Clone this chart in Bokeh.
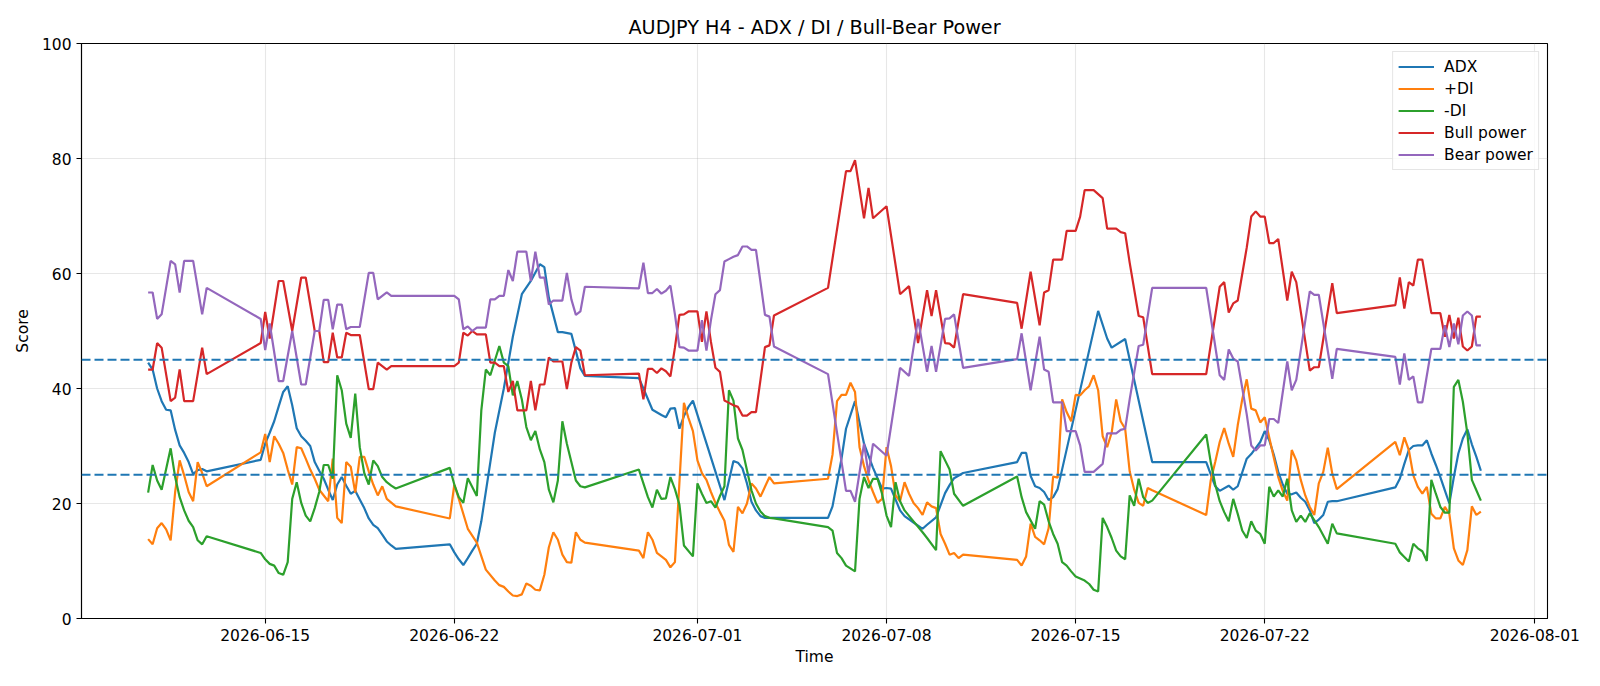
import pandas as pd
from bokeh.plotting import figure
from bokeh.models import Range1d, FixedTicker, DatetimeTickFormatter, Span
from bokeh.embed import file_html
from bokeh.resources import INLINE

title_text = "AUDJPY H4 - ADX / DI / Bull-Bear Power"
# bar times are stored as hour offsets from this reference timestamp
T0 = pd.Timestamp("2026-06-14 23:00")


def full(a, b):
    """every H4 bar from hour a to hour b (inclusive)"""
    return list(range(a, b + 1, 4))


date_ticks = ["2026-06-15", "2026-06-22", "2026-07-01", "2026-07-08",
              "2026-07-15", "2026-07-22", "2026-08-01"]
y_ticks = [0, 20, 40, 60, 80, 100]
thresholds = [45, 25]

# ---------------- ADX ----------------
adx_hours = (full(-103, -51) + full(-3, 117)
             + [165, 169, 173, 177, 181, 185, 189, 193, 205, 213, 221, 229, 237, 245, 249, 253, 261, 265, 273, 277, 281, 285]
             + [333, 337, 345, 353, 357, 361, 365, 369, 373, 377, 381, 409, 417, 421, 425, 429, 433, 437, 441, 445, 453]
             + [501, 505, 513, 517, 525, 533, 541, 549, 553, 557, 565, 569, 577, 585, 589, 597, 605, 609, 613, 621]
             + [669, 673, 677, 681, 685, 689, 693, 697, 701, 705, 741, 749, 753, 765, 789]
             + [837, 845, 849, 857, 861, 865, 873, 877, 885, 889, 893, 897, 901, 905, 909, 913, 917, 921, 925, 929, 933, 937, 941, 945, 949, 953]
             + full(1005, 1081))
adx_values = [44.5, 43.3, 40.0, 37.8, 36.3, 36.2, 32.8, 30.1, 28.8, 27.2, 25.1, 25.8, 26.0, 25.6,
              27.6, 30.4, 32.3, 34.3, 36.9, 39.4, 40.4, 37.1, 33.1, 31.7, 30.9, 30.0, 27.2, 25.7, 24.3, 22.4,
              20.6, 23.3, 24.6, 23.1, 21.7, 22.2, 20.7, 19.2, 17.4, 16.3, 15.7, 14.6, 13.4, 12.7, 12.1,
              12.9, 11.5, 10.3, 9.3, 10.5, 11.8, 13.0, 16.9, 32.3, 40.0, 49.0, 56.4, 58.7, 61.6, 61.1, 55.8,
              49.8, 49.8, 49.5, 46.5, 43.5, 42.2,
              41.8, 40.0, 36.3, 35.4, 35.0, 36.5, 36.6, 33.0, 35.2, 36.8, 37.9, 20.6, 27.4, 27.1, 26.1, 23.5,
              20.3, 18.8, 17.8, 17.5, 17.5,
              17.5, 19.5, 27.8, 33.0, 37.8, 30.4, 26.2, 22.6, 22.7, 22.6, 18.8, 17.8, 16.7, 15.6, 16.3, 17.6,
              21.8, 23.2, 24.4, 25.3,
              27.2, 28.8, 28.8, 24.8, 23.0, 22.7, 22.0, 20.6, 21.1, 22.5, 53.5, 48.7, 47.1, 48.6, 27.2,
              27.2, 23.0, 22.2, 23.1, 22.4, 23.0, 27.8, 28.6, 30.7, 32.6, 31.0, 28.5, 25.5, 23.3, 21.7, 21.6,
              21.9, 21.0, 20.3, 18.8, 16.6, 17.2, 18.0, 20.3, 20.4, 20.4,
              22.8, 24.3, 26.9, 29.3, 30.0, 30.1, 30.1, 31.0, 28.7, 26.7, 24.6, 22.3, 20.0, 24.6, 28.7, 31.3,
              32.9, 30.3, 28.1, 25.7]

# ---------------- +DI ----------------
plus_di_hours = (full(-103, -51)
                 + [-3, 1, 5, 9, 13, 17, 21, 25, 29, 33, 37, 41, 45, 49, 57, 61, 65, 69, 73, 77, 81, 85, 89, 93, 97, 101, 105, 109, 117]
                 + [165, 169, 173, 181, 189, 197, 205, 209, 213, 217, 221, 225, 229, 233, 237, 241, 245, 249, 253, 257, 261, 265, 269, 273, 277, 281, 285]
                 + [333, 337, 341, 345, 349, 353, 357, 361, 365] + full(373, 453)
                 + full(501, 621) + full(669, 789) + full(837, 953) + full(1005, 1081))
plus_di_values = [13.8, 12.9, 15.7, 16.6, 15.5, 13.6, 22.0, 27.5, 24.9, 22.0, 20.4, 27.2, 25.3, 23.0,
                  28.9, 32.1, 27.2, 31.7, 30.4, 28.8, 25.9, 23.3, 29.8, 29.6, 27.8, 25.9, 24.3, 22.4, 20.4,
                  27.8, 17.5, 16.6, 27.2, 26.4, 21.9, 28.1, 28.1, 25.6, 23.3, 21.4, 23.0, 20.8, 19.5,
                  17.4, 23.3, 20.8, 15.6, 13.2, 8.5, 6.6, 5.8, 5.5, 4.7, 4.0, 3.9, 4.2, 6.1, 5.7, 5.0, 4.9,
                  7.6, 12.4, 15.0, 13.7, 11.1, 9.8, 9.7, 15.0, 13.7, 13.2,
                  11.8, 10.5, 15.0, 13.7, 11.4, 10.8, 10.2, 8.9, 9.8, 37.5, 34.9, 32.6, 27.5, 25.3, 24.1, 22.0,
                  20.1, 18.5, 17.0, 12.8, 11.6, 19.4, 18.3, 20.0, 23.5, 22.6, 21.2, 22.9, 24.6, 23.5,
                  24.3, 28.5, 37.8, 38.9, 38.9, 41.0, 39.4, 29.8, 26.5, 24.0, 22.0, 20.1, 20.8, 29.8, 26.5,
                  21.4, 20.4, 23.7, 21.7, 20.1, 19.2, 18.0, 20.2, 19.5, 19.2, 14.7, 13.0, 11.1, 11.4, 10.5, 11.1,
                  10.2, 9.2, 10.8, 16.5, 14.2, 13.6, 12.9, 15.7, 24.7, 24.5, 38.1, 35.9, 34.3, 38.9, 38.8,
                  39.7, 40.4, 42.3, 39.7, 31.7, 29.8, 32.3, 38.1, 34.3, 33.0, 25.6, 22.4, 20.1, 19.6, 22.7, 22.3,
                  18.0, 24.0, 27.2, 30.7, 33.1, 30.4, 28.1, 33.6, 38.1, 41.6, 36.5, 36.2, 34.1, 35.0, 31.5,
                  28.0, 24.6, 22.2, 20.5, 29.3, 27.5, 24.1, 21.4, 19.4, 18.0, 23.5, 25.5, 29.7, 25.2, 22.5,
                  30.7, 28.4, 31.5, 29.3, 24.9, 22.9, 21.7, 22.9, 18.2, 17.4, 17.4, 19.4, 18.2, 12.2, 10.1,
                  9.3, 11.9, 19.5, 18.0, 18.6]

# ---------------- -DI ----------------
minus_di_hours = ([-103, -99, -95, -91, -83, -79, -75, -71, -67, -63, -59, -55, -51]
                  + full(-3, 117)
                  + [165, 169, 173, 177, 181, 189, 193, 197, 201] + full(209, 285)
                  + [333, 341, 345, 349, 353, 357, 361, 365, 369, 373] + full(381, 453)
                  + [501, 505, 509, 513, 517, 525] + full(529, 569) + [577, 585, 589, 597, 601, 605, 609, 613, 621]
                  + [669, 673, 677] + full(685, 721) + full(729, 789)
                  + full(837, 937) + [945, 949, 953]
                  + full(1005, 1081))
minus_di_values = [21.9, 26.7, 24.0, 22.4, 29.6, 24.6, 21.1, 18.8, 17.0, 15.9, 13.6, 12.9, 14.3,
                   11.4, 10.3, 9.5, 9.2, 7.9, 7.6, 9.8, 20.8, 23.7, 20.1, 17.9, 16.9, 19.2, 22.0, 26.7, 26.7,
                   24.3, 42.3, 39.7, 33.9, 31.4, 39.1, 29.8, 25.3, 23.3, 27.5, 26.5, 24.6, 23.7, 23.1, 22.6,
                   26.2, 23.3, 21.1, 20.1, 24.4, 21.3, 36.2, 43.3, 42.3, 47.4, 44.5, 43.9, 38.8, 41.3, 38.1,
                   33.3, 31.0, 32.6, 29.4, 27.2, 22.4, 20.2, 24.0, 34.3, 30.4, 27.2, 24.0, 23.0, 22.8,
                   25.9, 21.1, 19.3, 22.4, 20.8, 20.9, 24.6, 22.5, 19.8, 12.7, 10.8, 23.5, 21.7, 20.1, 20.4,
                   19.3, 21.3, 23.0, 39.7, 37.9, 31.3, 29.3, 25.8, 22.3, 20.0, 18.6, 17.8, 17.5, 17.4,
                   15.9, 15.3, 11.4, 10.5, 9.2, 8.2, 20.8, 24.6, 22.7, 24.3, 24.3, 21.7, 17.9, 15.9, 23.7,
                   20.4, 18.8, 16.9, 15.0, 14.0, 11.9, 29.1, 27.5, 25.9, 21.7, 19.6,
                   24.7, 21.1, 18.5, 15.6, 20.4, 19.8, 16.9, 14.7, 13.0, 9.8, 9.2, 8.2, 7.3, 6.6, 6.0, 5.0,
                   4.7, 17.5, 15.9, 14.0, 11.8, 10.8, 10.3, 21.4, 19.6, 24.3, 21.1, 20.1, 20.5,
                   32.0, 27.2, 23.3, 20.4, 18.5, 16.9, 20.8, 18.2, 15.3, 14.0, 16.9, 15.3, 14.7, 13.0, 22.9,
                   21.2, 22.3, 21.2, 24.3, 18.8, 16.8, 17.9, 16.8, 18.3, 17.1, 15.9, 13.0, 16.5, 14.8,
                   13.0, 11.5, 10.7, 9.9, 13.0, 12.2, 11.7, 10.0, 24.1, 21.7, 19.4, 18.4, 18.4, 40.3, 41.5,
                   37.7, 32.2, 24.1, 22.3, 20.5]

# ---------------- Bull / Bear power ----------------
power_hours = ([-103, -99, -95, -91, -83, -79, -75, -71, -63, -55, -51]
               + [-3, 1, 5, 13, 17, 25, 33, 37, 45, 49] + full(53, 77) + [85] + full(93, 117)
               + full(165, 285) + full(333, 453)
               + [501, 517, 521, 525, 533, 537, 541, 553, 565, 573, 581, 589, 593, 597, 605, 609, 613, 621]
               + [669, 673, 681] + full(689, 737) + full(745, 769) + [777, 781, 789]
               + [837, 849, 853, 857, 861, 865, 873, 877, 881, 885, 889, 893, 897, 901, 909, 913, 917,
                  929, 933, 937, 949, 953]
               + [1005, 1009, 1013, 1017, 1021, 1025, 1029] + full(1037, 1081))
bull_values = [43.3, 43.3, 47.9, 47.1, 37.8, 38.4, 43.3, 37.8, 37.8, 47.1, 42.5,
               47.9, 53.3, 48.7, 58.7, 58.7, 50.0, 59.3, 59.3, 50.0, 50.0, 44.6, 44.6, 49.7, 45.4, 45.4,
               49.7, 49.3, 49.3, 39.9, 39.9, 44.5, 43.9, 43.3, 43.9, 43.9,
               43.9, 43.9, 44.5, 49.7, 49.2, 50.0, 49.4, 49.4, 49.4, 44.5, 44.5, 43.9, 43.9, 39.4, 41.3,
               36.2, 36.2, 36.2, 41.3, 36.2, 40.7, 40.7, 45.4, 44.7, 44.7, 44.7, 39.9, 44.5, 47.2, 46.6, 42.3,
               42.6, 38.1, 43.4, 43.4, 42.7, 43.5, 43.0, 42.1, 47.1, 52.8, 52.9, 53.4, 53.4, 53.4, 48.1,
               53.4, 48.1, 43.6, 42.9, 37.9, 37.5, 37.1, 36.8, 35.3, 35.3, 35.9, 35.9, 41.5, 47.2, 47.5, 52.7,
               57.5, 77.8, 77.8, 79.7, 69.6, 74.9, 69.6, 71.7, 56.4, 57.8, 47.9, 57.1, 52.6, 57.1, 47.9,
               47.8, 47.1, 56.4,
               54.9, 50.4, 60.3, 51.0, 56.7, 57.1, 62.4, 62.4, 62.4, 67.4, 67.4, 67.4, 69.9, 74.5, 74.5,
               74.5, 73.1, 67.8, 67.8, 67.8, 67.2, 67.0, 61.9, 52.6, 52.4, 42.5,
               42.5, 57.7, 58.5, 53.2, 54.8, 55.3, 64.5, 69.9, 70.8, 69.9, 69.9, 65.3, 65.3, 66.0, 55.3,
               60.3, 58.5, 43.1, 43.7, 43.7, 58.3, 53.1,
               54.5, 59.3, 53.9, 58.5, 57.9, 62.4, 62.4, 53.1, 53.1, 53.1, 49.0, 52.8, 48.7, 52.3, 47.3,
               46.6, 47.3, 52.5, 52.5]
bear_values = [56.7, 56.7, 52.1, 52.9, 62.2, 61.6, 56.7, 62.2, 62.2, 52.9, 57.5,
               52.1, 46.7, 51.3, 41.3, 41.3, 50.0, 40.7, 40.7, 50.0, 50.0, 55.4, 55.4, 50.3, 54.6, 54.6,
               50.3, 50.7, 50.7, 60.1, 60.1, 55.5, 56.1, 56.7, 56.1, 56.1,
               56.1, 56.1, 55.5, 50.3, 50.8, 50.0, 50.6, 50.6, 50.6, 55.5, 55.5, 56.1, 56.1, 60.6, 58.7,
               63.8, 63.8, 63.8, 58.7, 63.8, 59.3, 59.3, 54.6, 55.3, 55.3, 55.3, 60.1, 55.5, 52.8, 53.4, 57.7,
               57.4, 61.9, 56.6, 56.6, 57.3, 56.5, 57.0, 57.9, 52.9, 47.2, 47.1, 46.6, 46.6, 46.6, 51.9,
               46.6, 51.9, 56.4, 57.1, 62.1, 62.5, 62.9, 63.2, 64.7, 64.7, 64.1, 64.1, 58.5, 52.8, 52.5, 47.3,
               42.5, 22.2, 22.2, 20.3, 30.4, 25.1, 30.4, 28.3, 43.6, 42.2, 52.1, 42.9, 47.4, 42.9, 52.1,
               52.2, 52.9, 43.6,
               45.1, 49.6, 39.7, 49.0, 43.3, 42.9, 37.6, 37.6, 37.6, 32.6, 32.6, 32.6, 30.1, 25.5, 25.5,
               25.5, 26.9, 32.2, 32.2, 32.2, 32.8, 33.0, 38.1, 47.4, 47.6, 57.5,
               57.5, 42.3, 41.5, 46.8, 45.2, 44.7, 35.5, 30.1, 29.2, 30.1, 30.1, 34.7, 34.7, 34.0, 44.7,
               39.7, 41.5, 56.9, 56.3, 56.3, 41.7, 46.9,
               45.5, 40.7, 46.1, 41.5, 42.1, 37.6, 37.6, 46.9, 46.9, 46.9, 51.0, 47.2, 51.3, 47.7, 52.7,
               53.4, 52.7, 47.5, 47.5]

series = [
    ("ADX", adx_hours, adx_values, "#1f77b4"),
    ("+DI", plus_di_hours, plus_di_values, "#ff7f0e"),
    ("-DI", minus_di_hours, minus_di_values, "#2ca02c"),
    ("Bull power", power_hours, bull_values, "#d62728"),
    ("Bear power", power_hours, bear_values, "#9467bd"),
]


def to_times(hours):
    return (T0 + pd.to_timedelta(hours, unit="h")).values


all_hours = [h for _, hs, _, _ in series for h in hs]
t_first = T0 + pd.Timedelta(hours=min(all_hours))
t_last = T0 + pd.Timedelta(hours=max(all_hours))
pad = (t_last - t_first) * 0.05

FONT = "DejaVu Sans"
p = figure(width=1600, height=686, x_axis_type="datetime",
           x_range=Range1d((t_first - pad).to_pydatetime(), (t_last + pad).to_pydatetime()),
           y_range=Range1d(0, 100),
           output_backend="svg", toolbar_location=None, title=title_text,
           min_border_left=81, min_border_right=53, min_border_top=43, min_border_bottom=68,
           background_fill_color="white", border_fill_color="white")

p.title.text_font = FONT
p.title.text_font_size = "19.2px"
p.title.text_font_style = "normal"
p.title.text_color = "black"
p.title.align = "center"
p.title.standoff = 10

xt = FixedTicker(ticks=[pd.Timestamp(d).value / 1e6 for d in date_ticks])
yt = FixedTicker(ticks=y_ticks)
p.xaxis.ticker = xt
p.yaxis.ticker = yt
p.xgrid.ticker = xt
p.ygrid.ticker = yt
fmt = "%Y-%m-%d"
p.xaxis.formatter = DatetimeTickFormatter(days=fmt, months=fmt, years=fmt, hours=fmt, hourmin=fmt)

p.xaxis.axis_label = "Time"
p.yaxis.axis_label = "Score"
for ax in (p.xaxis, p.yaxis):
    ax.axis_label_text_font = FONT
    ax.axis_label_text_font_size = "15.5px"
    ax.axis_label_text_font_style = "normal"
    ax.axis_label_text_color = "black"
    ax.major_label_text_font = FONT
    ax.major_label_text_font_size = "15.5px"
    ax.major_label_text_color = "black"
    ax.axis_line_color = "black"
    ax.axis_line_width = 1.1
    ax.major_tick_line_color = "black"
    ax.major_tick_line_width = 1.1
    ax.major_tick_out = 5
    ax.major_tick_in = 0
    ax.minor_tick_line_color = None
    ax.major_label_standoff = 5
p.xaxis.axis_label_standoff = 4
p.yaxis.axis_label_standoff = 7

for g in (p.xgrid, p.ygrid):
    g.grid_line_color = "#b0b0b0"
    g.grid_line_alpha = 0.3
    g.grid_line_width = 1.1

p.outline_line_color = "black"
p.outline_line_width = 1.1
p.outline_line_alpha = 1.0

for name, hours, values, color in series:
    p.line(to_times(hours), values, line_color=color, line_width=2.2, legend_label=name)

for level in thresholds:
    p.add_layout(Span(location=level, dimension="width", line_color="#1f77b4",
                      line_dash="9 4", line_width=1.8))

lg = p.legend[0]
lg.location = "top_right"
lg.margin = 8
lg.padding = 5
lg.spacing = 3
lg.glyph_width = 36
lg.glyph_height = 19
lg.label_height = 19
lg.label_standoff = 10
lg.label_text_font = FONT
lg.label_text_font_size = "15.5px"
lg.label_text_color = "black"
lg.border_line_color = "#cccccc"
lg.border_line_width = 1.1
lg.background_fill_color = "white"
lg.background_fill_alpha = 0.8

open("out.html", "w").write(file_html(p, INLINE))
